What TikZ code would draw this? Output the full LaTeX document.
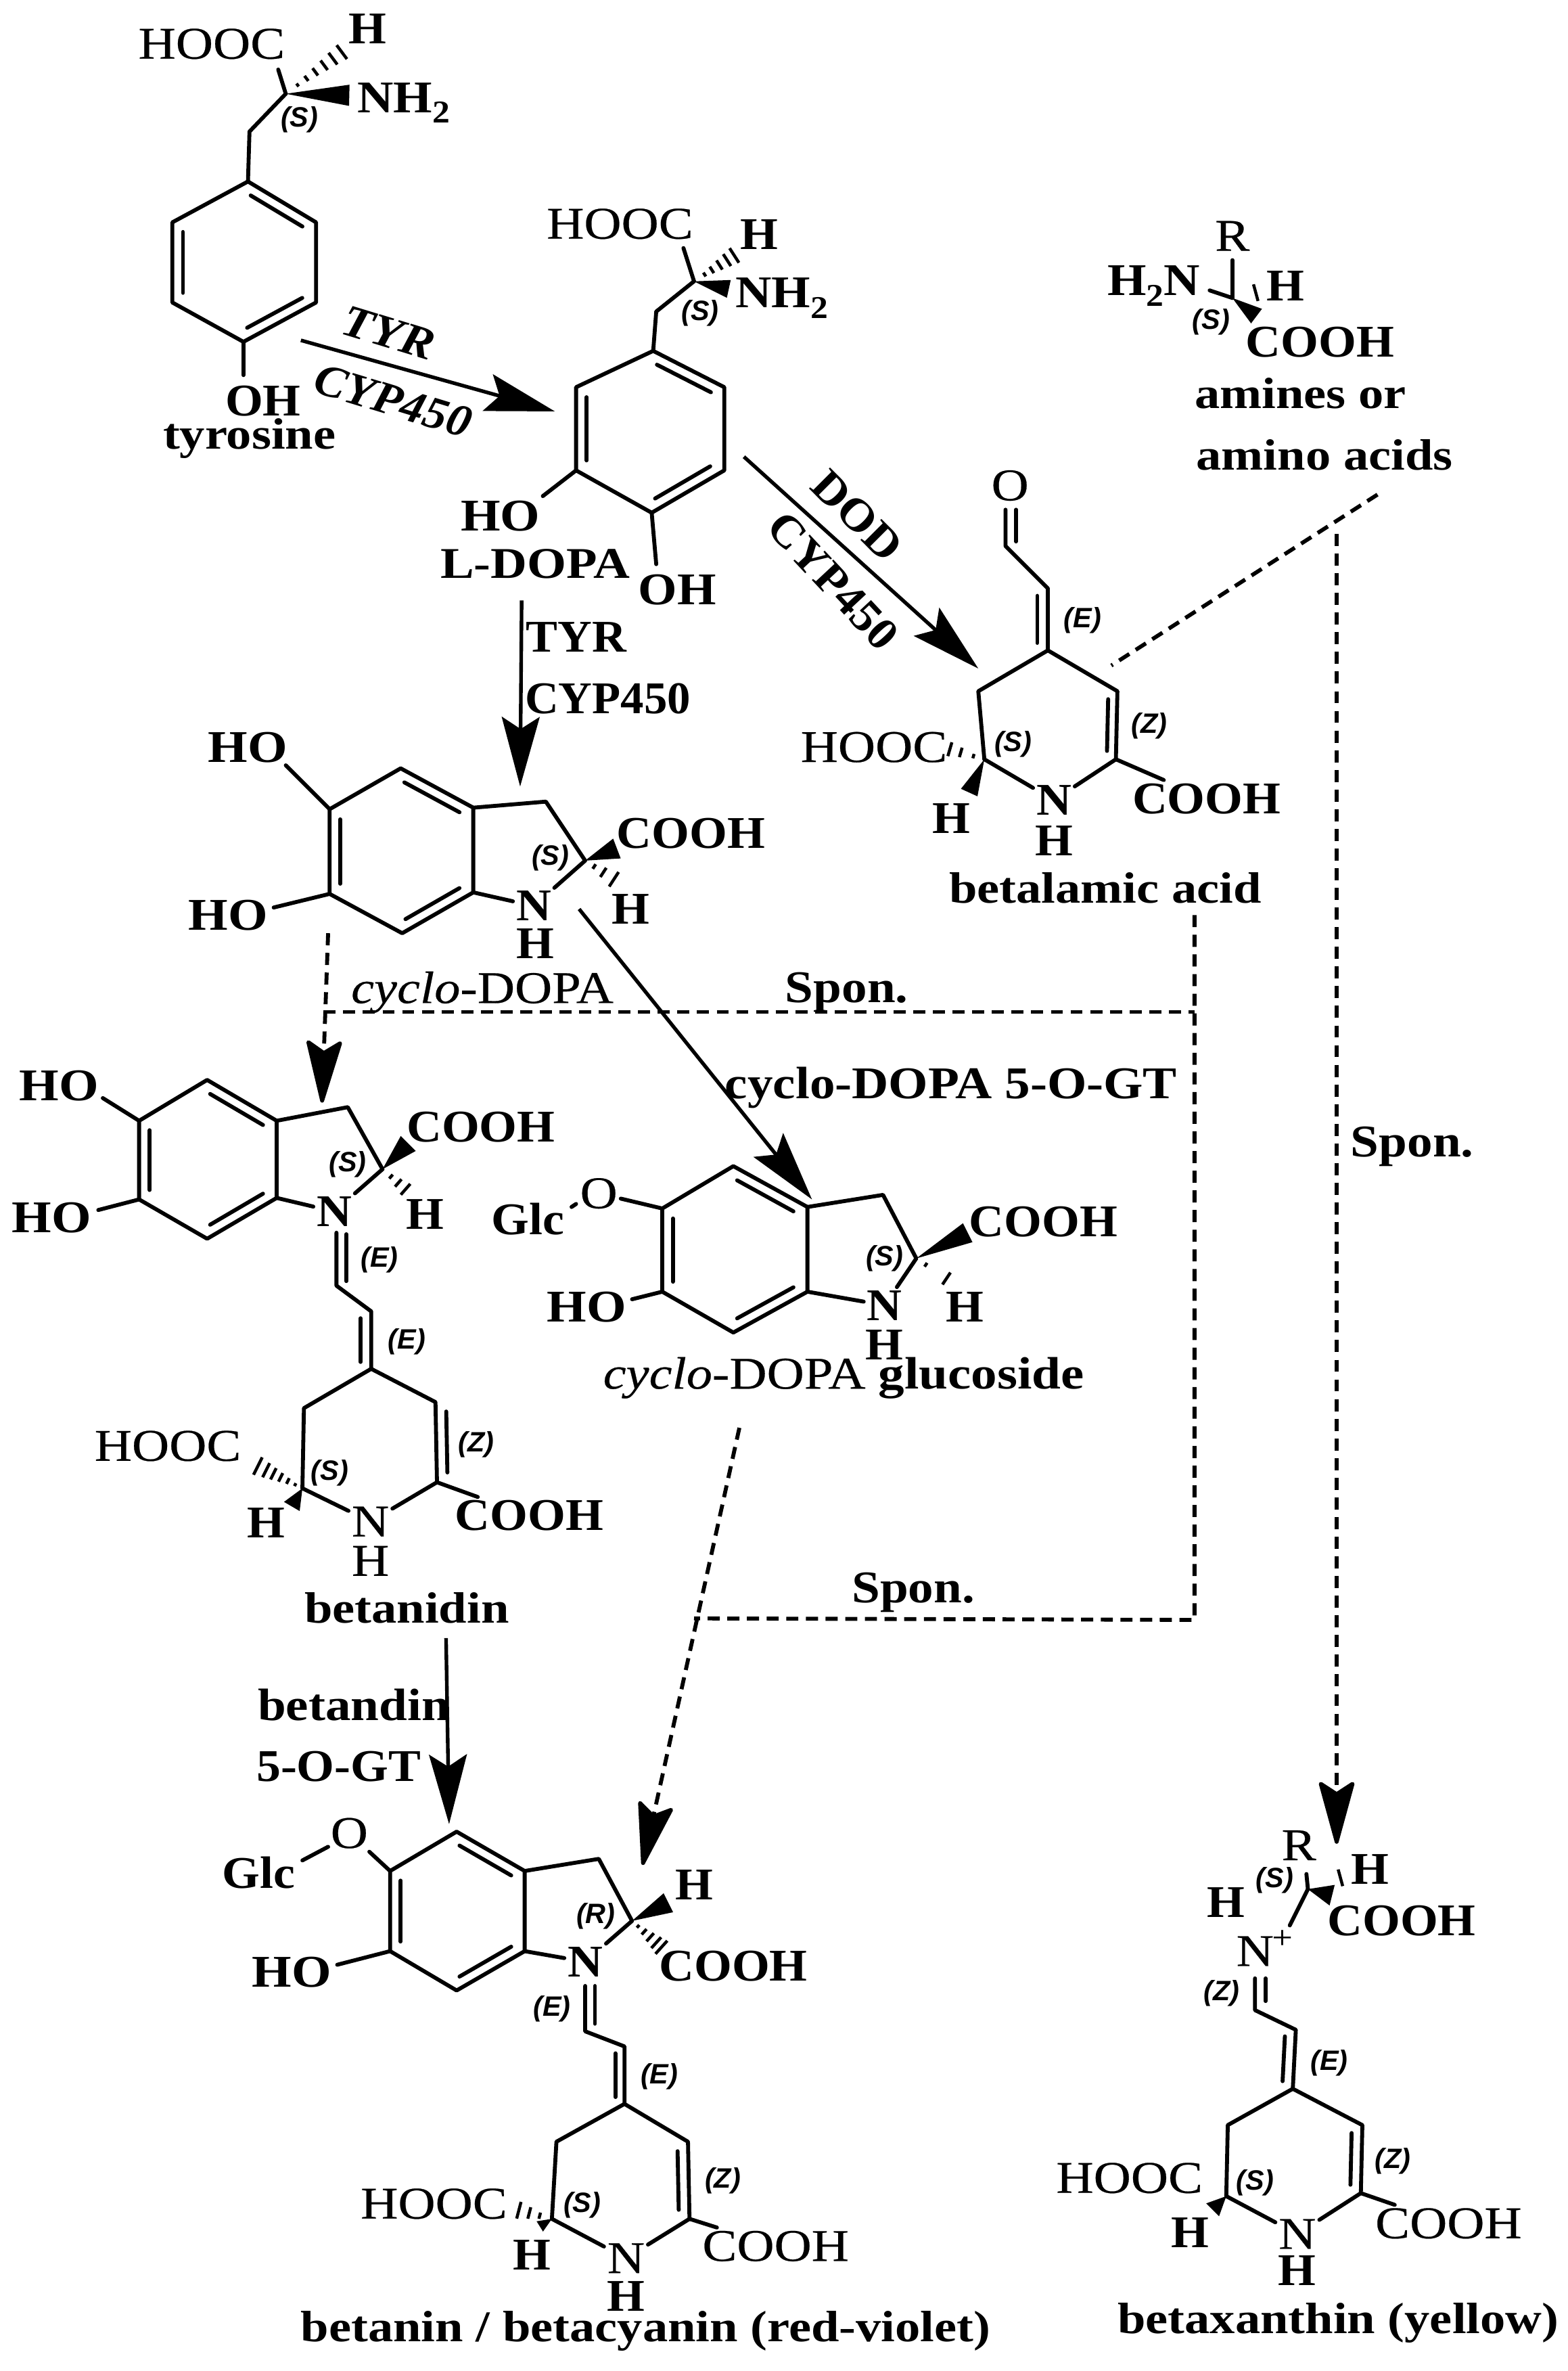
\documentclass[tikz,border=0pt]{standalone}
\usepackage{graphicx}
\usepackage{fontspec}
\setmainfont{Liberation Serif}
\newfontfamily\lsans{Liberation Sans}
\newfontfamily\fa{Liberation Serif}[FakeStretch=1.14,FakeBold=0.35]
\newfontfamily\fb{Liberation Serif}[FakeStretch=1.07]
\newfontfamily\fc{Liberation Serif}[FakeStretch=1.12]
\newfontfamily\fn{Liberation Serif}[FakeStretch=1.15]
\usetikzlibrary{calc,arrows.meta}
\tikzset{
  bond/.style={line width=2.6pt,line cap=round,line join=round,black},
  hashln/.style={line width=2pt,black},
  rxn/.style={line width=2.4pt,black,-{Stealth[length=46pt,width=25pt,inset=8pt]}},
  dashln/.style={line width=2.6pt,black,dash pattern=on 8pt off 5pt},
  dasharrow/.style={dashln,-{Stealth[length=46pt,width=25pt,inset=8pt,round=false]}},
  atomr/.style={inner sep=2pt,font=\fontsize{30}{30}\fa\selectfont},
  atomb/.style={inner sep=2pt,font=\fontsize{30}{30}\fb\bfseries\selectfont},
  labelb/.style={inner sep=0pt,font=\fontsize{30}{30}\fc\bfseries\selectfont},
  cname/.style={inner sep=0pt,font=\fontsize{29}{29}\fn\bfseries\selectfont},
  ster/.style={inner sep=0pt,font=\fontsize{18.5}{18.5}\lsans\bfseries\itshape\selectfont},
}
\newcommand\sbt[1]{\raisebox{-7pt}{\fontsize{21}{21}\selectfont #1}}
\newcommand\sx[2]{\scalebox{#1}[1]{#2}}
\newcommand\dblr[3][7]{\draw[bond] ($($(#2)!.12!(#3)$)!#1pt!-90:(#3)$) -- ($($(#3)!.12!(#2)$)!#1pt!90:(#2)$);}
\newcommand\hashb[4]{\foreach \t in {#4}{\coordinate (hp) at ($(#1)!\t!(#2)$);\pgfmathsetmacro\hw{#3*\t}\draw[hashln] ($(hp)!\hw pt!90:(#1)$) -- ($(hp)!\hw pt!-90:(#1)$);}}
\newcommand\wedgeb[3]{\fill[black] (#1) -- ($(#2)!#3pt!90:(#1)$) -- ($(#2)!#3pt!-90:(#1)$) -- cycle;}
\newcommand\ringsix[7]{%
  \coordinate (#11) at #2;\coordinate (#12) at #3;\coordinate (#13) at #4;
  \coordinate (#14) at #5;\coordinate (#15) at #6;\coordinate (#16) at #7;
  \draw[bond] (#11) -- (#12) -- (#13) -- (#14) -- (#15) -- (#16) -- cycle;
  \dblr{#11}{#12}\dblr{#13}{#14}\dblr{#15}{#16}}
\begin{document}
\begin{tikzpicture}[x=1pt,y=-1pt]
\useasboundingbox (0,0) rectangle (1037,1567.6);
% ---------- tyrosine
\ringsix{ty}{(164,120)}{(209,147)}{(209,200)}{(161,226)}{(114,200)}{(114,147)}
\coordinate (tyCa) at (189,62);
\coordinate (tyCb) at (165,87);
\coordinate (tyHh) at (228,33);
\coordinate (tyNw) at (231,63);
\coordinate (tyOb) at (161,248);
\coordinate (tyHb) at (184,46);
\node[atomr] (tyHOOC) at (140,29) {HOOC};
\node[atomb] (tyH) at (243,19) {H};
\node[atomb] (tyN) at (267,68) {\sx{1.03}{NH\sbt{2}}};
\node[ster] (tyS) at (198,79) {(S)};
\node[atomb] (tyOH) at (174,265) {OH};
\node[cname] (tyname) at (165,290) {tyrosine};
\draw[bond] (tyCa) -- (tyHb);
\draw[bond] (tyCa) -- (tyCb) -- (ty1);
\draw[bond] (ty4) -- (tyOb);
\hashb{tyCa}{tyHh}{6}{.2,.35,.5,.65,.8,.95}
\wedgeb{tyCa}{tyNw}{7}
% arrow 1
\coordinate (a1s) at (199,225);
\coordinate (a1e) at (367,272);
\draw[rxn] (a1s) -- (a1e);
\node[atomb,rotate=-17] (a1t) at (257,220) {\sx{1.03}{\textit{TYR}}};
\node[atomb,rotate=-17] (a1c) at (260,265) {\sx{.98}{\textit{CYP450}}};
% ---------- L-DOPA
\ringsix{ld}{(432,232)}{(479,256)}{(479,311)}{(431,339)}{(381,311)}{(381,256)}
\coordinate (ldCa) at (459,186);
\coordinate (ldCb) at (434,206);
\coordinate (ldHh) at (487,168);
\coordinate (ldNw) at (482,191);
\coordinate (ldOa) at (359,328);
\coordinate (ldOb) at (434,373);
\coordinate (ldHb) at (452,164);
\node[atomr] (ldHOOC) at (410,148) {HOOC};
\node[atomb] (ldH) at (502,155) {H};
\node[atomb] (ldN) at (517,197) {\sx{1.03}{NH\sbt{2}}};
\node[ster] (ldS) at (463,207) {(S)};
\node[atomb] (ldHO) at (331,341) {\sx{1.05}{HO}};
\node[atomb] (ldOH) at (448,390) {\sx{1.03}{OH}};
\node[cname] (ldname) at (354,373) {L-DOPA};
\draw[bond] (ldCa) -- (ldHb);
\draw[bond] (ldCa) -- (ldCb) -- (ld1);
\draw[bond] (ld5) -- (ldOa);
\draw[bond] (ld4) -- (ldOb);
\hashb{ldCa}{ldHh}{6}{.25,.42,.6,.78,.95}
\wedgeb{ldCa}{ldNw}{6}
% arrow 2
\coordinate (a2s) at (345,397);
\coordinate (a2e) at (344,520);
\draw[rxn] (a2s) -- (a2e);
\node[atomb] (a2t) at (381,421) {\sx{.98}{TYR}};
\node[atomb] (a2c) at (402,462) {\sx{.96}{CYP450}};
% arrow DOD
\coordinate (a3s) at (492,302);
\coordinate (a3e) at (647,442);
\draw[rxn] (a3s) -- (a3e);
\node[atomb,rotate=-45] (a3t) at (567,341) {DOD};
\node[atomb,rotate=-47] (a3c) at (551,384) {\sx{.98}{CYP450}};
% ---------- amine
\coordinate (amC) at (815,197);
\coordinate (amR) at (815,172);
\coordinate (amNb) at (800,192);
\coordinate (amW) at (831,209);
\coordinate (amHa) at (829,188);
\coordinate (amHb) at (832,199);
\node[atomr] (amRt) at (815,156) {R};
\node[atomb] (amN) at (763,189) {\sx{1.03}{H\sbt{2}N}};
\node[atomb] (amH) at (850,189) {H};
\node[ster] (amS) at (801,213) {(S)};
\node[atomb] (amCOOH) at (873,226) {COOH};
\node[cname] (amname1) at (860,260) {amines or};
\node[cname] (amname2) at (876,301) {amino acids};
\draw[bond] (amC) -- (amR);
\draw[bond] (amC) -- (amNb);
\wedgeb{amC}{amW}{6}
\draw[hashln] (amHa) -- (amHb);
% dashed from amines
\coordinate (da1) at (911,327);
\coordinate (da2) at (735,440);
\coordinate (da3) at (884,353);
\coordinate (da4) at (884,1219);
\draw[dashln] (da1) -- (da2);
\draw[dasharrow] (da3) -- (da4);
\node[labelb] (sp3) at (934,758) {Spon.};
% ---------- betalamic acid
\coordinate (blO) at (665,337);
\coordinate (blOb) at (672,337);
\coordinate (blOc) at (672,358);
\coordinate (blA) at (665,361);
\coordinate (blB) at (693,389);
\coordinate (bl4) at (693,430);
\coordinate (blL) at (647,457);
\coordinate (blS) at (651,502);
\coordinate (blR) at (739,457);
\coordinate (blC) at (738,502);
\coordinate (blW) at (641,524);
\coordinate (blHh) at (627,495);
\node[atomr] (blOt) at (668,321) {O};
\node[atomb] (blN) at (697,529) {N};
\node[atomb] (blNH) at (697,556) {H};
\node[atomr] (blHOOC) at (578,494) {HOOC};
\node[atomb] (blH) at (629,541) {H};
\node[atomb] (blCOOH) at (798,528) {COOH};
\node[ster] (blSt) at (670,492) {(S)};
\node[ster] (blZ) at (760,480) {(Z)};
\node[ster] (blE) at (716,410) {(E)};
\node[cname] (blname) at (731,587) {betalamic acid};
\draw[bond] (blO) -- (blA) -- (blB) -- (bl4);
\draw[bond] (blOb) -- (blOc);
\dblr{blB}{bl4}
\draw[bond] (blS) -- (blL) -- (bl4) -- (blR) -- (blC);
\dblr[6]{blR}{blC}
\draw[bond] (blS) -- (blN);
\draw[bond] (blC) -- (blN);
\draw[bond] (blC) -- (blCOOH);
\wedgeb{blS}{blW}{6}
\hashb{blS}{blHh}{5}{.3,.65,.95}
\coordinate (db1) at (790,605);
\coordinate (db2) at (790,1071);
\coordinate (db3) at (214,669);
\coordinate (db4) at (790,669);
\coordinate (db5) at (459,1070);
\draw[dashln] (db1) -- (db2) -- (db5);
\draw[dashln] (db3) -- (db4);
\node[labelb] (sp1) at (560,656) {Spon.};
\node[labelb] (sp2) at (604,1053) {Spon.};
% ---------- cyclo-DOPA
\ringsix{cd}{(265,508)}{(313,534)}{(313,590)}{(266,617)}{(218,591)}{(218,535)}
\coordinate (cdB) at (361,530);
\coordinate (cdCa) at (387,569);
\coordinate (cdW) at (408,561);
\coordinate (cdHh) at (407,582);
\coordinate (cdOa) at (189,506);
\coordinate (cdOb) at (181,600);
\node[atomb] (cdHO1) at (164,494) {\sx{1.05}{HO}};
\node[atomb] (cdHO2) at (151,605) {\sx{1.05}{HO}};
\node[atomb] (cdN) at (353,599) {N};
\node[atomb] (cdNH) at (354,624) {H};
\node[atomb] (cdCOOH) at (457,551) {COOH};
\node[atomb] (cdH) at (417,601) {H};
\node[ster] (cdS) at (364,567) {(S)};
\node[atomr] (cdname) at (319,656) {\textit{cyclo}-DOPA};
\draw[bond] (cd2) -- (cdB) -- (cdCa) -- (cdN) -- (cd3);
\draw[bond] (cd6) -- (cdOa);
\draw[bond] (cd5) -- (cdOb);
\wedgeb{cdCa}{cdW}{7}
\hashb{cdCa}{cdHh}{6}{.3,.6,.95}
% arrow dashed to betanidin
\coordinate (a4s) at (217,617);
\coordinate (a4e) at (213,729);
\draw[dasharrow] (a4s) -- (a4e);
% arrow to glucoside
\coordinate (a5s) at (383,601);
\coordinate (a5e) at (537,793);
\draw[rxn] (a5s) -- (a5e);
\node[labelb] (a5t) at (629,719) {cyclo-DOPA 5-O-GT};
% ---------- betanidin
\ringsix{bd}{(137,714)}{(183,741)}{(183,792)}{(137,819)}{(92,793)}{(92,741)}
\coordinate (bdB) at (230,732);
\coordinate (bdCa) at (253,773);
\coordinate (bdW) at (270,756);
\coordinate (bdHh) at (269,787);
\coordinate (bdOa) at (68,726);
\coordinate (bdOb) at (65,800);
\coordinate (bdNa) at (222.5,815);
\coordinate (bdNb) at (229,816);
\coordinate (bdNc) at (229,847);
\coordinate (bdCH) at (222.5,850);
\coordinate (bdCI) at (245.5,867);
\coordinate (bd4c) at (245.5,905);
\coordinate (bdL) at (201,931);
\coordinate (bdR) at (288,927);
\coordinate (bdSc) at (200,984);
\coordinate (bdC) at (289,980);
\coordinate (bdWb) at (193,996);
\coordinate (bdHb) at (168,968);
\node[atomb] (bdHO1) at (39,718) {\sx{1.05}{HO}};
\node[atomb] (bdHO2) at (34,805) {\sx{1.05}{HO}};
\node[atomb] (bdN) at (221,801) {N};
\node[atomb] (bdCOOH) at (318,745) {COOH};
\node[atomb] (bdH) at (281,803) {H};
\node[ster] (bdS) at (230,770) {(S)};
\node[ster] (bdE1) at (251,833) {(E)};
\node[ster] (bdE2) at (269,887) {(E)};
\node[ster] (bdZ) at (315,955) {(Z)};
\node[ster] (bdS2) at (218,974) {(S)};
\node[atomr] (bdNn) at (245,1006) {N};
\node[atomr] (bdNH) at (245,1032) {H};
\node[atomr] (bdHOOC) at (111,956) {HOOC};
\node[atomb] (bdHh2) at (176,1007) {H};
\node[atomb] (bdCOOH2) at (350,1002) {COOH};
\node[cname] (bdname) at (269,1063) {betanidin};
\draw[bond] (bd2) -- (bdB) -- (bdCa) -- (bdN) -- (bd3);
\draw[bond] (bd6) -- (bdOa);
\draw[bond] (bd5) -- (bdOb);
\wedgeb{bdCa}{bdW}{7}
\hashb{bdCa}{bdHh}{5}{.35,.65,.95}
\draw[bond] (bdNa) -- (bdCH) -- (bdCI) -- (bd4c);
\draw[bond] (bdNb) -- (bdNc);
\dblr{bdCI}{bd4c}
\draw[bond] (bdSc) -- (bdL) -- (bd4c) -- (bdR) -- (bdC);
\dblr[-7]{bdR}{bdC}
\draw[bond] (bdSc) -- (bdNn);
\draw[bond] (bdC) -- (bdNn);
\draw[bond] (bdC) -- (bdCOOH2);
\wedgeb{bdSc}{bdWb}{6}
\hashb{bdSc}{bdHb}{7}{.15,.3,.45,.6,.75,.92}
% arrow betanidin -> betanin
\coordinate (a6s) at (295,1083);
\coordinate (a6e) at (297,1206);
\draw[rxn] (a6s) -- (a6e);
\node[labelb] (a6t) at (234,1127) {betandin};
\node[atomb] (a6c) at (224,1168) {5-O-GT};
% ---------- cyclo-DOPA glucoside
\ringsix{gl}{(485,771)}{(534,798)}{(534,854)}{(485,881)}{(438,854)}{(438,799)}
\coordinate (glB) at (584,790);
\coordinate (glCa) at (606,832);
\coordinate (glW) at (640,815);
\coordinate (glHh) at (627,846);
\coordinate (glOb) at (418,859);
\coordinate (glDa) at (378,798);
\coordinate (glDb) at (381,796);
\node[atomb] (glGlc) at (349,806) {Glc};
\node[atomr] (glO) at (396,789) {O};
\node[atomb] (glHO) at (388,864) {\sx{1.05}{HO}};
\node[atomb] (glN) at (585,863) {N};
\node[atomb] (glNH) at (585,889) {H};
\node[atomb] (glCOOH) at (690,808) {COOH};
\node[atomb] (glH) at (638,864) {H};
\node[ster] (glS) at (585,832) {(S)};
\node[atomr] (glname) at (558,911) {\textit{cyclo}-DOPA {\fn\bfseries glucoside}};
\draw[bond] (gl2) -- (glB) -- (glCa) -- (glN) -- (gl3);
\draw[bond] (gl6) -- (glO);
\draw[bond] (gl5) -- (glOb);
\draw[bond] (glDa) -- (glDb);
\wedgeb{glCa}{glW}{7}
\hashb{glCa}{glHh}{5}{.3,.95}
% arrow dashed to betanin
\coordinate (a7s) at (489,944);
\coordinate (a7e) at (425,1233);
\draw[dasharrow] (a7s) -- (a7e);
% ---------- betanin
\ringsix{bn}{(302,1211)}{(347,1237)}{(347,1290)}{(302,1316)}{(258,1290)}{(258,1237)}
\coordinate (bnB) at (396,1229);
\coordinate (bnCa) at (418,1270);
\coordinate (bnW) at (442,1258);
\coordinate (bnHh) at (438,1288);
\coordinate (bnOb) at (223,1299);
\coordinate (bnDa) at (200,1230);
\coordinate (bnDb) at (217,1221);
\coordinate (bnNa) at (387,1313);
\coordinate (bnNb) at (393.5,1313);
\coordinate (bnNc) at (393.5,1338);
\coordinate (bnCH) at (387,1343);
\coordinate (bnCI) at (413,1353);
\coordinate (bn4c) at (413,1391);
\coordinate (bnL) at (368,1416);
\coordinate (bnR) at (455,1416);
\coordinate (bnSc) at (365,1467);
\coordinate (bnC) at (456,1467);
\coordinate (bnWb) at (357,1472);
\coordinate (bnHb) at (342,1461);
\node[atomb] (bnGlc) at (171,1238) {Glc};
\node[atomr] (bnO) at (231,1212) {O};
\node[atomb] (bnHO) at (193,1304) {\sx{1.05}{HO}};
\node[atomb] (bnN) at (387,1297) {N};
\node[atomb] (bnH) at (459,1246) {H};
\node[atomb] (bnCOOH) at (485,1300) {COOH};
\node[ster] (bnRt) at (394,1267) {(R)};
\node[ster] (bnE1) at (365,1328) {(E)};
\node[ster] (bnE2) at (436,1373) {(E)};
\node[ster] (bnZ) at (478,1442) {(Z)};
\node[ster] (bnS) at (385,1458) {(S)};
\node[atomr] (bnHOOC) at (287,1457) {HOOC};
\node[atomb] (bnHs) at (352,1491) {H};
\node[atomr] (bnNn) at (414,1493) {N};
\node[atomb] (bnNH) at (414,1518) {H};
\node[atomr] (bnCOOH2) at (513,1485) {COOH};
\node[cname] (bnname) at (427,1541) {betanin / betacyanin (red-violet)};
\draw[bond] (bn2) -- (bnB) -- (bnCa) -- (bnN) -- (bn3);
\draw[bond] (bn6) -- (bnO);
\draw[bond] (bn5) -- (bnOb);
\draw[bond] (bnDa) -- (bnDb);
\wedgeb{bnCa}{bnW}{7}
\hashb{bnCa}{bnHh}{6}{.2,.4,.6,.8,.97}
\draw[bond] (bnNa) -- (bnCH) -- (bnCI) -- (bn4c);
\draw[bond] (bnNb) -- (bnNc);
\dblr[6]{bnCI}{bn4c}
\draw[bond] (bnSc) -- (bnL) -- (bn4c) -- (bnR) -- (bnC);
\dblr{bnR}{bnC}
\draw[bond] (bnSc) -- (bnNn);
\draw[bond] (bnC) -- (bnNn);
\draw[bond] (bnC) -- (bnCOOH2);
\wedgeb{bnSc}{bnWb}{4}
\hashb{bnSc}{bnHb}{6}{.35,.65,.95}
% ---------- betaxanthin
\coordinate (bxCa) at (865,1249);
\coordinate (bxR) at (864,1239);
\coordinate (bxW) at (881,1253);
\coordinate (bxNb) at (853,1273);
\coordinate (bxNa) at (830,1308);
\coordinate (bxNd) at (837,1308);
\coordinate (bxNc) at (837,1323);
\coordinate (bxCH) at (830,1329);
\coordinate (bxCI) at (857,1342);
\coordinate (bx4c) at (855,1381);
\coordinate (bxL) at (812,1405);
\coordinate (bxRr) at (901,1405);
\coordinate (bxSc) at (811,1452);
\coordinate (bxC) at (900,1450);
\coordinate (bxWb) at (802,1461);
\coordinate (bxHa) at (885,1236);
\coordinate (bxHc) at (888,1247);
\node[atomr] (bxRt) at (859,1220) {R};
\node[atomb] (bxH) at (906,1236) {H};
\node[ster] (bxS) at (843,1243) {(S)};
\node[atomb] (bxCOOH) at (927,1270) {COOH};
\node[atomb] (bxH2) at (811,1258) {H};
\node[atomr] (bxN) at (830,1290) {N};
\node[atomr] (bxPl) at (848,1282) {\fontsize{21}{21}\selectfont +};
\node[ster] (bxZ1) at (808,1318) {(Z)};
\node[ster] (bxE) at (879,1364) {(E)};
\node[ster] (bxZ2) at (921,1429) {(Z)};
\node[ster] (bxS2) at (830,1443) {(S)};
\node[atomr] (bxHOOC) at (747,1440) {HOOC};
\node[atomb] (bxHs) at (787,1476) {H};
\node[atomr] (bxNn) at (858,1477) {N};
\node[atomb] (bxNH) at (858,1501) {H};
\node[atomr] (bxCOOH2) at (958,1470) {COOH};
\node[cname] (bxname) at (885,1536) {betaxanthin (yellow)};
\draw[bond] (bxCa) -- (bxR);
\draw[bond] (bxCa) -- (bxNb);
\wedgeb{bxCa}{bxW}{7}
\draw[hashln] (bxHa) -- (bxHc);
\draw[bond] (bxNa) -- (bxCH) -- (bxCI) -- (bx4c);
\draw[bond] (bxNd) -- (bxNc);
\dblr{bxCI}{bx4c}
\draw[bond] (bxSc) -- (bxL) -- (bx4c) -- (bxRr) -- (bxC);
\dblr{bxRr}{bxC}
\draw[bond] (bxSc) -- (bxNn);
\draw[bond] (bxC) -- (bxNn);
\draw[bond] (bxC) -- (bxCOOH2);
\wedgeb{bxSc}{bxWb}{6}
\end{tikzpicture}
\end{document}
